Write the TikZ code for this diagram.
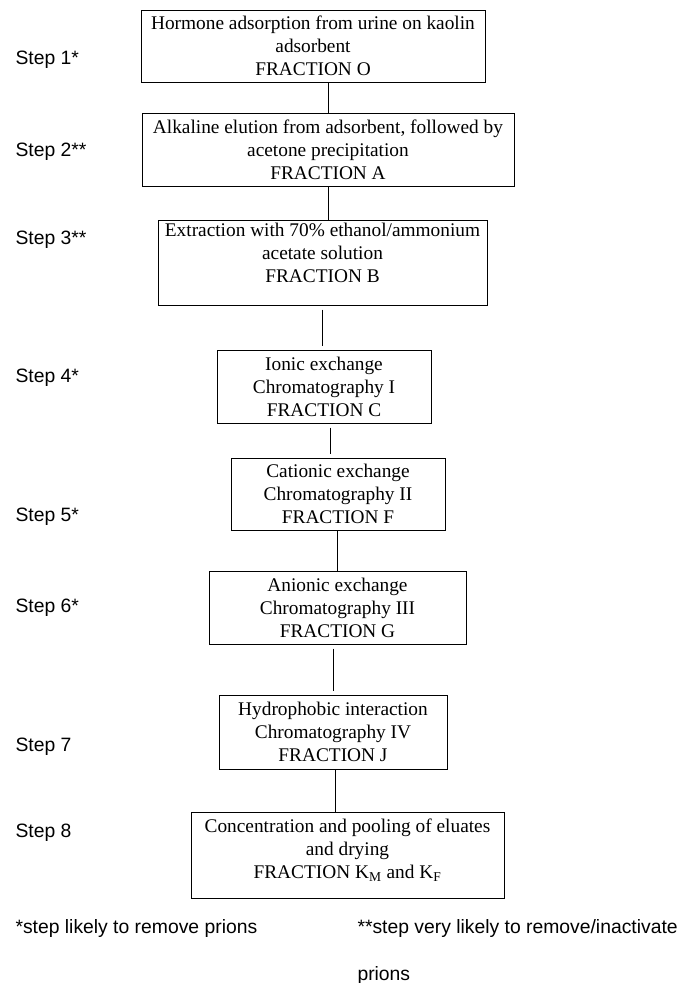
\documentclass[tikz,border=0pt]{standalone}
\usepackage{fontspec}
\setmainfont{Liberation Serif}
\setsansfont{Liberation Sans}

\tikzset{every picture/.style={line width=0.75pt}}
\tikzset{
  stepbox/.style={draw, align=center, inner sep=0pt, font=\fontsize{14.5}{17.25}\selectfont},
  steplabel/.style={anchor=west, inner sep=0pt, font=\sffamily\fontsize{14.5}{17}\selectfont},
  gapline/.style={shorten <=3pt, shorten >=2.5pt},
}

\begin{document}
\begin{tikzpicture}[x=0.75pt,y=0.75pt,yscale=-1,xscale=1]
		\path[use as bounding box] (0,0) rectangle (684,983);

		%Shape: Rectangle [step 1]
		\node[stepbox, minimum width=258pt, minimum height=54pt] (frO) at (313,46) {Hormone adsorption from urine on kaolin\\adsorbent\\FRACTION O};
		%Shape: Rectangle [step 2]
		\node[stepbox, minimum width=279pt, minimum height=54.75pt] (frA) at (328,149.5) {Alkaline elution from adsorbent, followed by\\acetone precipitation\\FRACTION A};
		%Shape: Rectangle [step 3]
		\node[stepbox, minimum width=246.75pt, minimum height=63.75pt] (frB) at (322.5,262.5) {Extraction with 70\% ethanol/ammonium\\acetate solution\\FRACTION B\rule[-15pt]{0pt}{15pt}};
		%Shape: Rectangle [step 4]
		\node[stepbox, minimum width=160.5pt, minimum height=54.75pt] (frC) at (324,386.5) {Ionic exchange\\Chromatography I\\FRACTION C};
		%Shape: Rectangle [step 5]
		\node[stepbox, minimum width=160.5pt, minimum height=54pt] (frF) at (338,494) {Cationic exchange\\Chromatography II\\FRACTION F};
		%Shape: Rectangle [step 6]
		\node[stepbox, minimum width=192.75pt, minimum height=54.75pt] (frG) at (337.5,607.5) {Anionic exchange\\Chromatography III\\FRACTION G};
		%Shape: Rectangle [step 7]
		\node[stepbox, minimum width=171pt, minimum height=55.5pt] (frJ) at (333,732) {Hydrophobic interaction\\Chromatography IV\\FRACTION J};
		%Shape: Rectangle [step 8]
		\node[stepbox, minimum width=234.75pt, minimum height=64.5pt] (frK) at (347.5,855) {Concentration and pooling of eluates\\and drying\\FRACTION K\textsubscript{M} and K\textsubscript{F}\rule[-10pt]{0pt}{10pt}};

		%Straight Lines
		\draw (frA.north |- frO.south) -- (frA.north) ;
		\draw (frA.south) -- (frA.south |- frB.north) ;
		\draw[gapline] (frB.south) -- (frB.south |- frC.north) ;
		\draw[gapline] ([xshift=5pt]frC.south) -- ([xshift=5pt]frC.south |- frF.north) ;
		\draw (frG.north |- frF.south) -- (frG.north) ;
		\draw[gapline] (frJ.north |- frG.south) -- (frJ.north) ;
		\draw ([xshift=1.5pt]frJ.south) -- ([xshift=1.5pt]frJ.south |- frK.north) ;

		% Text Node
		\node[steplabel] (st1) at (15,60) {Step 1*};
		% Text Node
		\node[steplabel] (st2) at (15,152) {Step 2**};
		% Text Node
		\node[steplabel] (st3) at (15,240) {Step 3**};
		% Text Node
		\node[steplabel] (st4) at (15,378) {Step 4*};
		% Text Node
		\node[steplabel] (st5) at (15,517) {Step 5*};
		% Text Node
		\node[steplabel] (st6) at (15,608) {Step 6*};
		% Text Node
		\node[steplabel] (st7) at (15,747) {Step 7};
		% Text Node
		\node[steplabel] (st8) at (15,833) {Step 8};

		% Text Node
		\node[steplabel] (note1) at (15,928) {*step likely to remove prions};
		% Text Node
		\node[steplabel] (note2) at (357,928) {**step very likely to remove/inactivate};
		% Text Node
		\node[steplabel] (note3) at (357,975) {prions};

\end{tikzpicture}
\end{document}
